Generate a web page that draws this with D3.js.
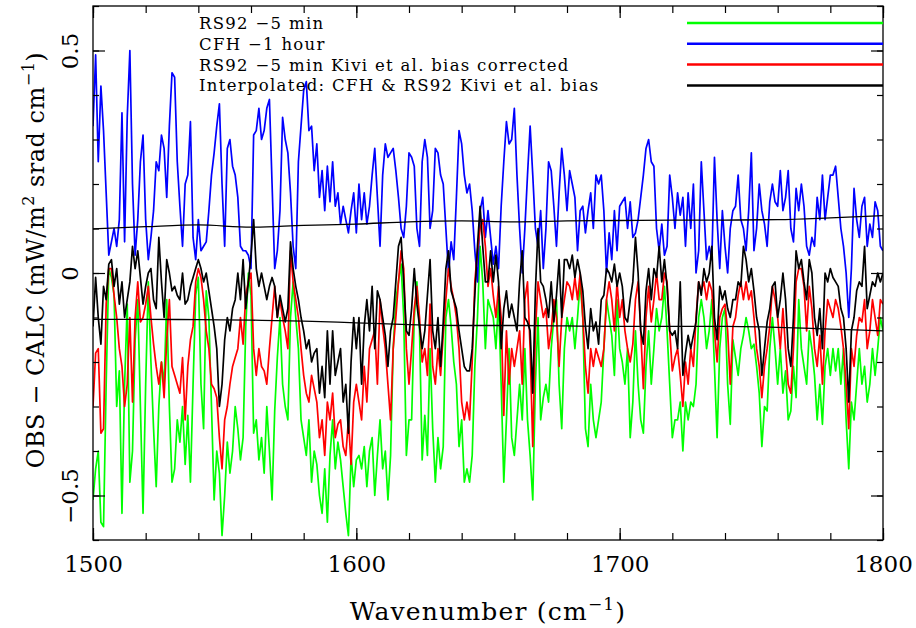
<!DOCTYPE html>
<html>
<head>
<meta charset="utf-8">
<script src="https://cdn.jsdelivr.net/npm/d3@7"></script>
<style>
body { margin: 0; background: #fff; }
text { font-family: "DejaVu Serif", serif; fill: #000; }
</style>
</head>
<body>
<div id="chart"></div>
<script>
// sampling grid, 1 cm-1 steps
const wavenumber = d3.range(1500, 1801, 1);

// RS92 -5 min
const rs92 = [
  -0.51, -0.44, -0.40, -0.56, -0.57, -0.25, 0.01, -0.01, -0.05, -0.30,
  -0.22, -0.54, -0.25, -0.07, -0.47, -0.40, -0.15, -0.06, -0.30, -0.54,
  -0.25, -0.02, -0.20, -0.35, -0.48, -0.30, -0.20, -0.25, -0.06, -0.30,
  -0.47, -0.44, -0.33, -0.38, -0.30, -0.43, -0.32, -0.47, -0.25, -0.05,
  -0.01, -0.25, -0.35, -0.04, -0.10, -0.30, -0.51, -0.40, -0.45, -0.59,
  -0.50, -0.38, -0.45, -0.40, -0.30, -0.35, -0.42, -0.37, -0.12, 0.00,
  -0.05,
  -0.36, -0.33, -0.42, -0.37, -0.45, -0.30, -0.40, -0.51, -0.31, -0.19,
  -0.10, -0.25, -0.30, -0.33, -0.10, -0.02, -0.10, -0.17, -0.33, -0.37,
  -0.41, -0.33, -0.47, -0.40, -0.43, -0.50, -0.54, -0.44, -0.56, -0.41,
  -0.33, -0.44, -0.38, -0.42, -0.48, -0.54, -0.59, -0.41, -0.48, -0.42,
  -0.41, -0.44, -0.39, -0.48, -0.40, -0.37, -0.50, -0.41, -0.33, -0.44,
  -0.40, -0.51, -0.41, -0.17, -0.06, -0.02, 0.02, -0.10, -0.41, -0.33,
  -0.33, -0.10, -0.02, -0.13, -0.42, -0.32, -0.41, -0.17, -0.35, -0.47,
  -0.37, -0.44, -0.39, -0.10, -0.06, -0.12, -0.20, -0.25, -0.39, -0.33,
  -0.47, -0.44, -0.47, -0.41, -0.21, -0.10, 0.06, -0.02, -0.17, -0.06,
  -0.08, -0.10, -0.17, -0.06, -0.25, -0.47, -0.33, -0.17, -0.37, -0.41,
  -0.33, -0.25, -0.33, -0.17, -0.33, -0.41, -0.51, -0.25, -0.10, -0.33,
  -0.28, -0.25, -0.29, -0.17, -0.10, -0.06, -0.25, -0.35, -0.17, -0.10,
  -0.13, -0.10, -0.17, -0.10, -0.02, -0.10, -0.35, -0.39, -0.25, -0.33,
  -0.37, -0.33, -0.29, -0.17, -0.06, -0.10, -0.14, -0.23, -0.06, -0.17,
  -0.20, -0.25, -0.17, -0.37, -0.29, -0.13, -0.25, -0.33, -0.36, -0.21,
  -0.13, -0.25, -0.17, -0.08, -0.13, -0.10, -0.03, -0.13, -0.25, -0.37,
  -0.33, -0.33, -0.29, -0.40, -0.29, -0.33, -0.29, -0.30, -0.25, -0.10,
  -0.06, -0.10, -0.17, -0.13, -0.06, -0.21, -0.37, -0.17, -0.10, -0.08,
  -0.25, -0.34, -0.15, -0.19, -0.23, -0.17, -0.14, -0.10, -0.13, -0.17,
  -0.16, -0.21, -0.27, -0.39, -0.30, -0.31, -0.17, -0.10, -0.17, -0.25,
  -0.17, -0.27, -0.22, -0.33, -0.31, -0.21, -0.28, -0.06, -0.17, -0.21,
  -0.25, -0.13, -0.17, -0.23, -0.33, -0.25, -0.34, -0.21, -0.17, -0.23,
  -0.17, -0.22, -0.17, -0.25, -0.17, -0.33, -0.44, -0.29, -0.33, -0.25,
  -0.17, -0.25, -0.21, -0.29, -0.25, -0.17, -0.23, -0.17, -0.10, -0.13
];

// CFH -1 hour
const cfh = [
  0.33, 0.49, 0.25, 0.42, 0.32, 0.18, 0.04, 0.07, 0.10, 0.06,
  0.12, 0.36, 0.07, 0.35, 0.50, 0.20, 0.04, 0.12, 0.25, 0.31,
  0.12, 0.03, 0.08, 0.14, 0.25, 0.23, 0.31, 0.28, 0.17, 0.33,
  0.45, 0.44, 0.25, 0.15, 0.06, 0.20, 0.22, 0.34, 0.08, 0.03,
  0.12, 0.05, 0.06, 0.07, 0.14, 0.22, 0.27, 0.33, 0.38, 0.20,
  0.06, 0.28, 0.30, 0.24, 0.22, 0.17, 0.06, 0.05, 0.05, 0.04,
  0.01,
  0.31, 0.32, 0.37, 0.30, 0.32, 0.37, 0.39, 0.20, 0.01, 0.05,
  0.14, 0.35, 0.30, 0.27, 0.18, 0.06, 0.01, 0.25, 0.33, 0.41,
  0.43, 0.32, 0.33, 0.23, 0.29, 0.17, 0.23, 0.14, 0.24, 0.16,
  0.25, 0.15, 0.18, 0.11, 0.15, 0.12, 0.09, 0.14, 0.18, 0.09,
  0.20, 0.12, 0.18, 0.11, 0.15, 0.22, 0.28, 0.17, 0.06, 0.22,
  0.29, 0.26, 0.27, 0.28, 0.23, 0.17, 0.10, 0.08, 0.15, 0.27,
  0.26, 0.24, 0.10, 0.06, 0.25, 0.30, 0.26, 0.10, 0.14, 0.28,
  0.27, 0.22, 0.20, 0.10, 0.00, 0.07, 0.03, 0.17, 0.32, 0.29,
  0.22, 0.18, 0.20, 0.14, 0.05, -0.02, 0.14, 0.17, 0.08, 0.14,
  0.08, 0.02, 0.06, 0.01, 0.15, 0.25, 0.34, 0.29, 0.30, 0.37,
  0.22, 0.10, 0.00, 0.10, 0.22, 0.33, 0.22, 0.10, 0.06, 0.14,
  0.01, 0.10, 0.25, 0.23, 0.15, 0.06, 0.18, 0.28, 0.22, 0.14,
  0.23, 0.20, 0.17, 0.05, 0.14, 0.15, 0.09, 0.14, 0.18, 0.10,
  0.22, 0.20, 0.22, 0.14, 0.00, 0.09, 0.03, 0.14, 0.05, 0.15,
  0.16, 0.17, 0.10, 0.16, 0.08, 0.09, 0.12, 0.17, 0.22, 0.28,
  0.30, 0.25, 0.24, 0.10, 0.05, 0.11, 0.04, 0.06, 0.22, 0.17,
  0.10, 0.18, 0.13, 0.17, 0.06, 0.18, 0.10, 0.20, 0.00, 0.05,
  0.25, 0.14, 0.03, 0.06, 0.03, 0.26, 0.12, 0.01, 0.14, 0.06,
  0.00, 0.10, 0.14, 0.15, 0.22, 0.12, 0.10, 0.05, 0.14, 0.27,
  0.05, 0.10, 0.20, 0.14, 0.11, 0.06, 0.16, 0.20, 0.16, 0.15,
  0.23, 0.14, 0.17, 0.23, 0.10, 0.07, 0.19, 0.14, 0.20, 0.15,
  0.06, 0.04, 0.08, 0.06, 0.17, 0.12, 0.22, 0.12, 0.17, 0.22,
  0.22, 0.24, 0.17, 0.10, 0.06, 0.00, -0.10, 0.01, 0.19, 0.12,
  0.08, 0.15, 0.17, 0.06, 0.11, 0.08, 0.16, 0.14, 0.06, 0.05
];

// RS92 -5 min, Kivi et al. bias corrected
const rs92Kivi = [
  -0.30, -0.18, -0.17, -0.36, -0.35, -0.07, 0.01, 0.01, -0.05, -0.10,
  -0.17, -0.21, -0.30, -0.25, -0.10, -0.29, -0.10, -0.02, -0.11, -0.10,
  -0.07, -0.03, -0.10, -0.16, -0.21, -0.25, -0.20, -0.28, -0.15, -0.06,
  -0.21, -0.23, -0.25, -0.27, -0.19, -0.33, -0.21, -0.15, -0.12, -0.02,
  0.01, -0.01, -0.06, -0.13, -0.17, -0.25, -0.26, -0.28, -0.37, -0.44,
  -0.33, -0.30, -0.25, -0.21, -0.19, -0.17, -0.10, -0.16, -0.05, -0.02,
  0.00,
  -0.17, -0.23, -0.17, -0.21, -0.22, -0.25, -0.17, -0.10, -0.03, -0.10,
  -0.06, -0.10, -0.13, -0.17, 0.05, -0.02, -0.06, -0.10, -0.17, -0.23,
  -0.27, -0.29, -0.23, -0.26, -0.29, -0.37, -0.33, -0.41, -0.29, -0.33,
  -0.27, -0.37, -0.34, -0.33, -0.39, -0.41, -0.33, -0.43, -0.29, -0.25,
  -0.29, -0.33, -0.21, -0.29, -0.17, -0.15, -0.13, -0.25, -0.06, -0.12,
  -0.17, -0.25, -0.33, -0.17, -0.10, -0.02, 0.05, 0.01, -0.17, -0.25,
  -0.17, -0.08, -0.03, -0.10, -0.20, -0.17, -0.23, -0.07, -0.21, -0.25,
  -0.17, -0.23, -0.14, -0.06, 0.01, -0.03, -0.06, -0.10, -0.17, -0.29,
  -0.33, -0.29, -0.33, -0.20, -0.02, 0.05, 0.10, 0.12, 0.06, -0.03,
  0.01, -0.05, -0.10, -0.03, -0.10, -0.32, -0.13, -0.25, -0.17, -0.21,
  -0.17, -0.13, -0.25, -0.06, -0.02, -0.17, -0.39, -0.13, -0.02, -0.06,
  -0.10, -0.08, -0.17, -0.13, -0.06, -0.10, -0.21, -0.10, -0.06, -0.02,
  -0.03, -0.06, -0.01, -0.06, 0.00, -0.10, -0.21, -0.27, -0.17, -0.21,
  -0.17, -0.19, -0.21, -0.17, -0.06, -0.02, -0.06, -0.13, -0.02, -0.10,
  -0.06, -0.13, -0.17, -0.20, -0.16, -0.06, -0.02, -0.13, -0.26, -0.10,
  -0.03, -0.11, -0.06, 0.00, -0.06, -0.06, 0.00, -0.02, -0.13, -0.22,
  -0.19, -0.17, -0.23, -0.30, -0.20, -0.25, -0.17, -0.21, -0.10, -0.02,
  -0.04, -0.02, -0.06, -0.02, -0.04, -0.13, -0.20, -0.10, -0.08, -0.07,
  -0.13, -0.25, -0.12, -0.10, -0.05, -0.02, -0.06, -0.02, -0.06, -0.04,
  -0.10, -0.17, -0.21, -0.28, -0.21, -0.17, -0.12, -0.03, -0.06, -0.10,
  -0.17, -0.08, -0.17, -0.25, -0.27, -0.17, -0.02, 0.01, 0.01, -0.03,
  -0.13, -0.03, -0.08, -0.17, -0.21, -0.14, -0.25, -0.13, -0.06, -0.08,
  -0.10, -0.06, -0.08, -0.12, -0.17, -0.25, -0.35, -0.17, -0.21, -0.14,
  -0.10, -0.11, -0.06, -0.17, -0.13, -0.06, -0.10, -0.14, -0.06, -0.07
];

// Interpolated: CFH & RS92 Kivi et al. bias
const interpolated = [
  -0.12, -0.01, -0.10, -0.16, -0.03, -0.06, 0.02, 0.03, -0.03, 0.01,
  -0.07, -0.02, -0.10, -0.06, -0.02, 0.06, 0.01, 0.05, -0.01, -0.07,
  -0.03, 0.00, 0.01, -0.06, -0.08, 0.08, -0.02, -0.10, 0.03, 0.00,
  -0.04, -0.03, -0.05, -0.06, 0.00, -0.07, -0.06, -0.03, -0.01, 0.01,
  0.03, 0.01, -0.02, 0.00, -0.04, -0.08, -0.12, -0.17, -0.30, -0.25,
  -0.15, -0.10, -0.13, -0.08, -0.06, 0.00, -0.06, 0.03, -0.08, -0.02,
  0.04,
  0.12, 0.01, -0.03, 0.00, -0.03, -0.06, -0.03, -0.01, -0.03, -0.10,
  -0.05, -0.08, -0.11, -0.08, 0.07, 0.01, -0.03, -0.06, -0.10, -0.13,
  -0.17, -0.15, -0.20, -0.18, -0.17, -0.27, -0.21, -0.28, -0.13, -0.25,
  -0.13, -0.23, -0.20, -0.17, -0.29, -0.25, -0.36, -0.20, -0.10, -0.17,
  -0.10, -0.25, -0.12, -0.06, -0.13, -0.03, -0.17, -0.04, -0.06, -0.10,
  -0.14, -0.21, -0.13, -0.10, -0.02, 0.06, 0.08, -0.02, -0.13, -0.14,
  -0.08, 0.01, -0.07, -0.12, -0.17, -0.13, -0.05, 0.03, -0.13, -0.17,
  -0.10, -0.21, -0.11, 0.01, 0.05, -0.04, -0.06, -0.08, -0.13, -0.17,
  -0.21, -0.22, -0.22, -0.17, -0.05, 0.06, 0.15, 0.06, -0.02, -0.02,
  0.05, -0.02, 0.04, -0.02, -0.17, -0.08, -0.04, -0.10, -0.07, -0.10,
  -0.13, -0.02, 0.05, -0.10, -0.11, -0.13, -0.27, -0.04, 0.10, -0.02,
  -0.03, -0.06, -0.10, -0.02, -0.11, -0.05, 0.03, -0.10, 0.03, 0.03,
  0.01, 0.04, -0.01, 0.03, 0.00, -0.04, -0.12, -0.17, -0.08, -0.13,
  -0.11, -0.16, -0.06, -0.05, 0.01, 0.00, -0.02, 0.02, -0.03, 0.00,
  -0.03, -0.10, -0.11, -0.06, -0.02, 0.08, 0.00, -0.13, -0.16, -0.04,
  0.01, -0.06, 0.01, -0.01, 0.06, -0.02, 0.03, -0.03, -0.13, -0.14,
  -0.13, -0.17, -0.02, -0.23, -0.18, -0.14, -0.17, -0.14, -0.11, -0.02,
  -0.05, 0.01, -0.02, 0.00, 0.06, -0.10, -0.15, -0.03, -0.06, -0.04,
  -0.08, -0.10, -0.06, -0.06, -0.02, -0.03, 0.06, 0.03, -0.02, 0.01,
  -0.04, -0.10, -0.13, -0.23, -0.17, -0.11, -0.08, -0.03, -0.02, -0.10,
  -0.06, 0.00, -0.06, -0.17, -0.21, -0.10, 0.05, 0.01, 0.03, -0.02,
  -0.06, 0.03, 0.00, -0.10, -0.14, -0.08, -0.17, 0.00, -0.02, 0.01,
  -0.01, -0.02, -0.03, -0.08, -0.10, -0.17, -0.29, -0.13, -0.10, -0.04,
  -0.02, -0.03, 0.06, -0.08, -0.05, -0.02, -0.03, 0.00, -0.02, 0.00
];

// thin envelope lines around the interpolated curve
const biasWn = [1500, 1520, 1540, 1560, 1580, 1600, 1620, 1640, 1660, 1680, 1700, 1720, 1740, 1760, 1780, 1800];
const biasUpper = [0.099, 0.104, 0.108, 0.103, 0.107, 0.110, 0.115, 0.117, 0.115, 0.117, 0.118, 0.119, 0.119, 0.120, 0.124, 0.129];
const biasLower = [-0.104, -0.104, -0.105, -0.106, -0.108, -0.112, -0.116, -0.118, -0.118, -0.119, -0.120, -0.120, -0.120, -0.122, -0.126, -0.130];

const seriesNames = ['RS92 \u22125 min', 'CFH \u22121 hour', 'RS92 \u22125 min Kivi et al. bias corrected', 'Interpolated: CFH & RS92 Kivi et al. bias'];
const seriesColors = ['#00ff00', '#0000ff', '#ff0000', '#000000'];

const xMajor = [1500, 1600, 1700, 1800];
const xMinor = d3.range(1500, 1801, 20);
const yMajor = [-0.5, 0, 0.5];
const yMinor = d3.range(-6, 7).map(d => d / 10);

const WIDTH = 916;
const HEIGHT = 628;
const LEFT = 93, RIGHT = 883, TOP = 6, BOTTOM = 540;

const svg = d3.select('#chart')
    .append('svg')
    .attr('width', WIDTH)
    .attr('height', HEIGHT);

const xScale = d3.scaleLinear().domain([1500, 1800]).range([LEFT, RIGHT]);
const yScale = d3.scaleLinear().domain([-0.6, 0.6]).range([BOTTOM, TOP]);

svg.append('clipPath').attr('id', 'clip')
    .append('rect')
    .attr('x', LEFT).attr('y', TOP)
    .attr('width', RIGHT - LEFT).attr('height', BOTTOM - TOP);

// Lines
const line = d3.line()
    .x(d => xScale(d[0]))
    .y(d => yScale(d[1]));

const allSeries = [rs92, cfh, rs92Kivi, interpolated];
const plot = svg.append('g').attr('clip-path', 'url(#clip)');

allSeries.forEach((vals, i) => {
    plot.append('path')
        .datum(d3.zip(wavenumber, vals))
        .attr('fill', 'none')
        .attr('stroke', seriesColors[i])
        .attr('stroke-width', 1.7)
        .attr('stroke-linejoin', 'round')
        .attr('d', line);
});

const smooth = d3.line()
    .x(d => xScale(d[0]))
    .y(d => yScale(d[1]))
    .curve(d3.curveMonotoneX);

[biasUpper, biasLower].forEach(vals => {
    plot.append('path')
        .datum(d3.zip(biasWn, vals))
        .attr('fill', 'none')
        .attr('stroke', '#000')
        .attr('stroke-width', 1.3)
        .attr('d', smooth);
});

// Axes (ticks inward on all four sides)
function tidy(g) {
    g.select('.domain').remove();
    g.selectAll('line').attr('stroke-width', 1.2);
    g.attr('font-size', 23).attr('font-family', null);
}

svg.append('g')
    .attr('transform', `translate(0, ${BOTTOM})`)
    .call(d3.axisBottom(xScale).tickValues(xMajor).tickSize(-12).tickPadding(16).tickFormat(d3.format('d')))
    .call(tidy);
svg.append('g')
    .attr('transform', `translate(0, ${BOTTOM})`)
    .call(d3.axisBottom(xScale).tickValues(xMinor).tickSize(-7).tickFormat(''))
    .call(tidy);
svg.append('g')
    .attr('transform', `translate(0, ${TOP})`)
    .call(d3.axisTop(xScale).tickValues(xMajor).tickSize(-12).tickFormat(''))
    .call(tidy);
svg.append('g')
    .attr('transform', `translate(0, ${TOP})`)
    .call(d3.axisTop(xScale).tickValues(xMinor).tickSize(-7).tickFormat(''))
    .call(tidy);

const yAxis = svg.append('g')
    .attr('transform', `translate(${LEFT}, 0)`)
    .call(d3.axisLeft(yScale).tickValues(yMajor).tickSize(-12)
        .tickFormat(d => d === 0 ? '0' : d3.format('.1f')(d).replace('-', '\u2212')))
    .call(tidy);
yAxis.selectAll('text')
    .attr('x', null)
    .attr('dy', null)
    .attr('text-anchor', 'middle')
    .attr('transform', 'translate(-15, 0) rotate(-90)');
svg.append('g')
    .attr('transform', `translate(${LEFT}, 0)`)
    .call(d3.axisLeft(yScale).tickValues(yMinor).tickSize(-6).tickFormat(''))
    .call(tidy);
svg.append('g')
    .attr('transform', `translate(${RIGHT}, 0)`)
    .call(d3.axisRight(yScale).tickValues(yMajor).tickSize(-12).tickFormat(''))
    .call(tidy);
svg.append('g')
    .attr('transform', `translate(${RIGHT}, 0)`)
    .call(d3.axisRight(yScale).tickValues(yMinor).tickSize(-6).tickFormat(''))
    .call(tidy);

// Frame
svg.append('rect')
    .attr('x', LEFT).attr('y', TOP)
    .attr('width', RIGHT - LEFT).attr('height', BOTTOM - TOP)
    .attr('fill', 'none')
    .attr('stroke', '#000')
    .attr('stroke-width', 1.3);

// Axis titles
const xTitle = svg.append('text')
    .attr('x', (LEFT + RIGHT) / 2)
    .attr('y', 620)
    .attr('text-anchor', 'middle')
    .attr('font-size', 25)
    .attr('letter-spacing', 1.2);
xTitle.append('tspan').text('Wavenumber (cm');
xTitle.append('tspan').attr('dy', -10).attr('font-size', 17).text('\u22121');
xTitle.append('tspan').attr('dy', 10).text(')');

const yTitle = svg.append('text')
    .attr('transform', `translate(44, ${(TOP + BOTTOM) / 2 - 13}) rotate(-90)`)
    .attr('text-anchor', 'middle')
    .attr('font-size', 24)
    .attr('letter-spacing', 0.5);
yTitle.append('tspan').text('OBS \u2212 CALC (mW/m');
yTitle.append('tspan').attr('dy', -10).attr('font-size', 16).text('2');
yTitle.append('tspan').attr('dy', 10).text(' srad cm');
yTitle.append('tspan').attr('dy', -10).attr('font-size', 16).text('\u22121');
yTitle.append('tspan').attr('dy', 10).text(')');

// Legend
const legend = svg.append('g');
seriesNames.forEach((name, i) => {
    const yText = 29 + i * 20.8;
    legend.append('text')
        .attr('x', 199)
        .attr('y', yText)
        .attr('font-size', 16.5)
        .attr('letter-spacing', 1.3)
        .text(name);
    legend.append('line')
        .attr('x1', 687).attr('x2', RIGHT)
        .attr('y1', yText - 6).attr('y2', yText - 6)
        .attr('stroke', seriesColors[i])
        .attr('stroke-width', 2.5);
});
</script>
</body>
</html>
